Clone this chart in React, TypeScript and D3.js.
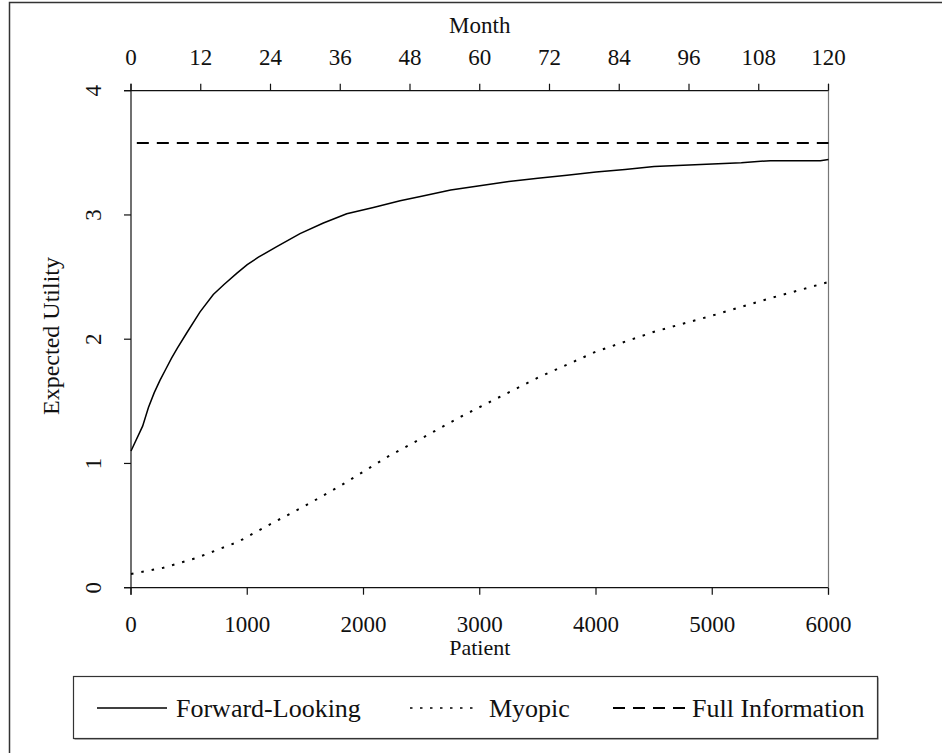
import React from "react";
import * as d3 from "d3";

const patients = [0, 100, 150, 200, 250, 300, 350, 400, 479, 594, 708, 800, 909, 1000, 1096, 1254, 1454, 1655, 1856, 2085, 2315, 2500, 2750, 3000, 3250, 3500, 3750, 4000, 4250, 4500, 4750, 5000, 5250, 5500, 5750, 5930, 6000];
const forwardLooking = [1.10, 1.30, 1.45, 1.57, 1.67, 1.76, 1.85, 1.93, 2.05, 2.22, 2.36, 2.44, 2.53, 2.60, 2.66, 2.745, 2.85, 2.935, 3.01, 3.06, 3.115, 3.15, 3.20, 3.235, 3.27, 3.295, 3.32, 3.345, 3.365, 3.39, 3.40, 3.41, 3.42, 3.437, 3.437, 3.437, 3.447];

const myopicPatients = [0, 278, 565, 923, 1196, 1500, 1800, 2200, 2573, 2845, 3118, 3500, 4000, 4500, 5000, 5500, 6000];
const myopic = [0.11, 0.16, 0.24, 0.37, 0.51, 0.66, 0.82, 1.05, 1.24, 1.38, 1.51, 1.69, 1.90, 2.06, 2.19, 2.33, 2.46];

const fullInfoPatients = [50, 6000];
const fullInfo = [3.58, 3.58];

const patientTicks = [0, 1000, 2000, 3000, 4000, 5000, 6000];
const monthTicks = [0, 12, 24, 36, 48, 60, 72, 84, 96, 108, 120];
const yTicks = [0, 1, 2, 3, 4];
const legendLabels = ["Forward-Looking", "Myopic", "Full Information"];

const FONT = "'Liberation Serif', 'Times New Roman', serif";

export default function App() {
  const L = 131, R = 828.5, T = 90.7, B = 587.7;
  const x = d3.scaleLinear().domain([0, 6000]).range([L, R]);
  const xm = d3.scaleLinear().domain([0, 120]).range([L, R]);
  const y = d3.scaleLinear().domain([0, 4]).range([B, T]);

  const line = d3.line<[number, number]>().x(d => x(d[0])).y(d => y(d[1]));
  const fl = line(patients.map((p, i) => [p, forwardLooking[i]]));
  const my = line(myopicPatients.map((p, i) => [p, myopic[i]]));
  const fi = line(fullInfoPatients.map((p, i) => [p, fullInfo[i]]));

  const legendY = 708;
  const legendItems = [
    { x1: 97, x2: 167, tx: 176, dash: undefined as string | undefined, w: 1.3 },
    { x1: 410, x2: 478, tx: 489, dash: "2.5 7.5", w: 1.6 },
    { x1: 613, x2: 685, tx: 692, dash: "12 8", w: 2 },
  ];

  return (
    <svg width={942} height={753} style={{ position: "absolute", left: 0, top: 0, background: "#fff" }} fontFamily={FONT}>
      <rect x={0} y={0} width={942} height={753} fill="#fff" />
      {/* outer frame */}
      <rect x={9.5} y={2.5} width={1200} height={1200} fill="none" stroke="#333" strokeWidth={1.5} />

      {/* axes */}
      <line x1={L - 7} x2={R} y1={T} y2={T} stroke="#111" strokeWidth={1.2} />
      <line x1={L - 7} x2={R} y1={B} y2={B} stroke="#111" strokeWidth={1.2} />
      <line x1={L} x2={L} y1={T - 7} y2={B + 7} stroke="#111" strokeWidth={1.2} />
      <line x1={R} x2={R} y1={T - 7} y2={B + 7} stroke="#777" strokeWidth={1.2} />

      {monthTicks.map(m => (
        <g key={"m" + m}>
          <line x1={xm(m)} x2={xm(m)} y1={T - 7} y2={T} stroke="#111" strokeWidth={1.2} />
          <text x={xm(m)} y={65} fontSize={23} textAnchor="middle" fill="#111">{m}</text>
        </g>
      ))}
      <text x={(L + R) / 2} y={33} fontSize={23} textAnchor="middle" fill="#111">Month</text>

      {patientTicks.map(p => (
        <g key={"p" + p}>
          <line x1={x(p)} x2={x(p)} y1={B} y2={B + 7} stroke="#111" strokeWidth={1.2} />
          <text x={x(p)} y={632} fontSize={23} textAnchor="middle" fill="#111">{p}</text>
        </g>
      ))}
      <text x={(L + R) / 2} y={655} fontSize={22} textAnchor="middle" fill="#111">Patient</text>

      {yTicks.map(v => (
        <g key={"y" + v}>
          <line x1={L - 7} x2={L} y1={y(v)} y2={y(v)} stroke="#111" strokeWidth={1.2} />
          <text transform={`translate(101,${y(v)}) rotate(-90)`} fontSize={23} textAnchor="middle" fill="#111">{v}</text>
        </g>
      ))}
      <text transform={`translate(59,336) rotate(-90)`} fontSize={24} textAnchor="middle" fill="#111">Expected Utility</text>

      {/* series */}
      <path d={fi ?? ""} fill="none" stroke="#000" strokeWidth={2} strokeDasharray="12 8" />
      <path d={fl ?? ""} fill="none" stroke="#000" strokeWidth={1.5} />
      <path d={my ?? ""} fill="none" stroke="#000" strokeWidth={2} strokeDasharray="2.5 8" />

      {/* legend */}
      <rect x={74.5} y={677.5} width={804} height={62} fill="#666" />
      <rect x={73.5} y={676.5} width={804} height={62} fill="#fff" stroke="#333" strokeWidth={1.2} />
      {legendItems.map((it, i) => (
        <g key={"l" + i}>
          <line x1={it.x1} x2={it.x2} y1={legendY} y2={legendY} stroke="#000" strokeWidth={it.w} strokeDasharray={it.dash} />
          <text x={it.tx} y={716.5} fontSize={26} fill="#111">{legendLabels[i]}</text>
        </g>
      ))}
    </svg>
  );
}
